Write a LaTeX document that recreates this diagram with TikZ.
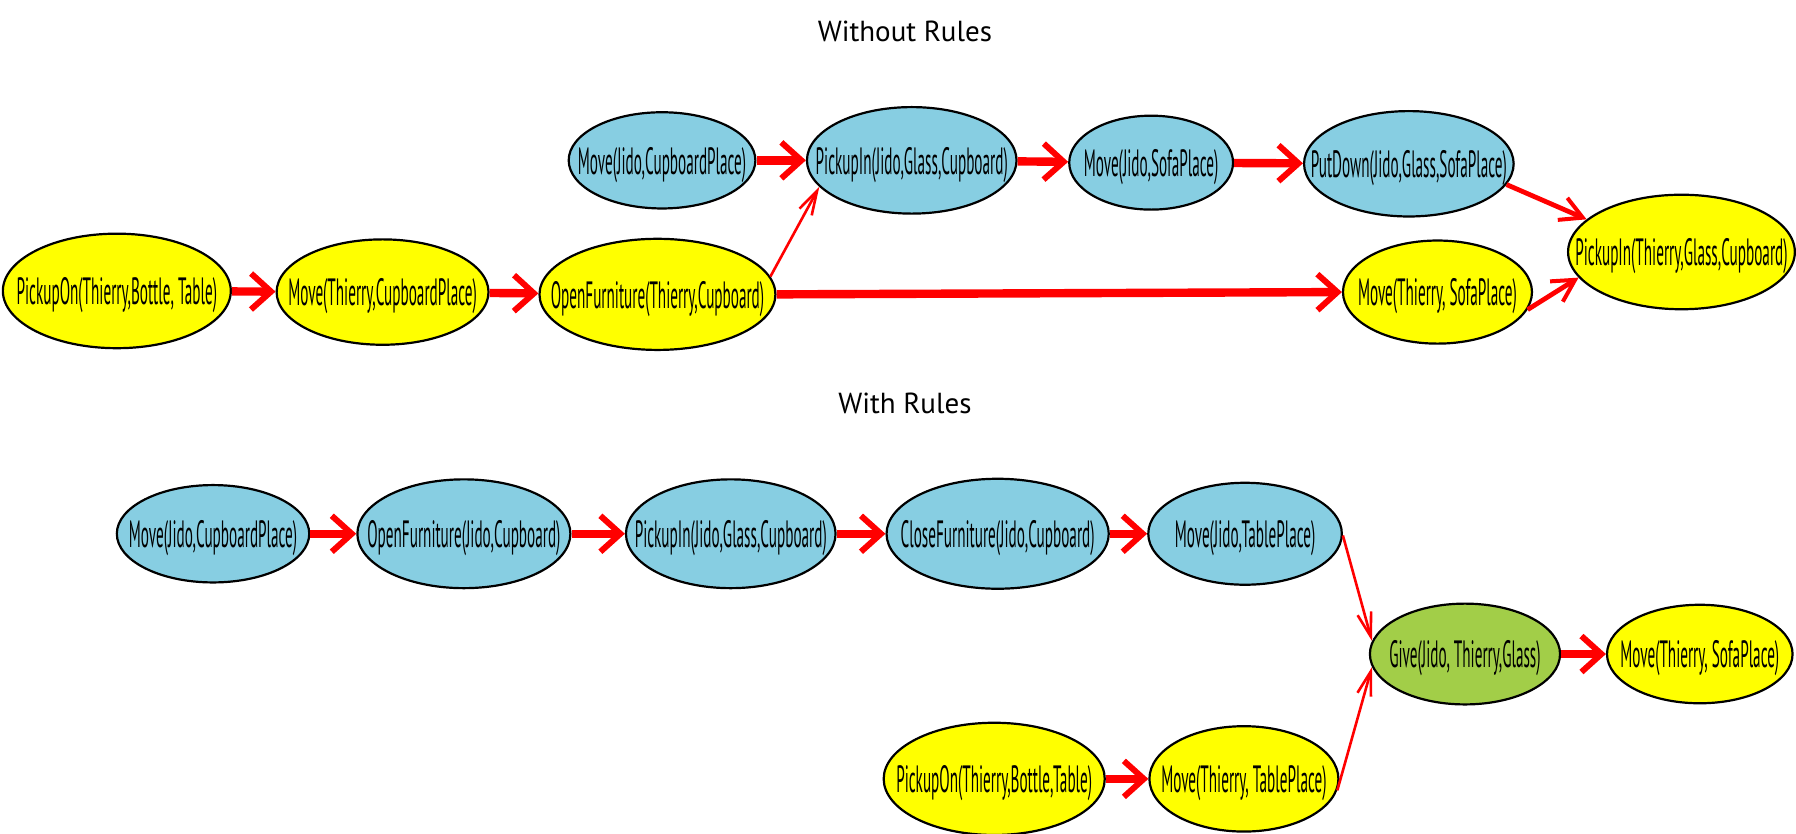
\documentclass[tikz,border=0pt]{standalone}
\usepackage{fontspec}
\setmainfont{PT Sans}
\newfontfamily\condfont[FakeStretch=0.40]{PT Sans}
\usetikzlibrary{shapes.geometric,arrows.meta}
\definecolor{ylw}{RGB}{255,255,0}
\definecolor{sky}{RGB}{135,206,226}
\definecolor{grn}{RGB}{162,206,72}
\definecolor{arr}{RGB}{255,0,0}
\newcommand{\et}[1]{\makebox[0pt]{\raisebox{-0.36em}[0pt][0pt]{#1}}}
\tikzset{
  ev/.style n args={3}{ellipse, draw=black, line width=1.1pt, fill=#1, inner sep=0pt,
    text height=0pt, text depth=0pt,
    minimum width={#2*0.5727pt}, minimum height={#3*0.5727pt},
    font=\condfont\fontsize{19}{19}\selectfont},
  thick arrow/.style={draw=arr, line width=4.2pt,
    -{Straight Barb[length=10pt,width=18pt,line width=3pt]}},
  mid arrow/.style={draw=arr, line width=2.4pt,
    -{Straight Barb[length=11pt,width=12pt,line width=2pt]}},
  thin arrow/.style={draw=arr, line width=1.3pt,
    -{Straight Barb[length=12pt,width=7pt,line width=1.3pt]}},
  title/.style={font=\fontsize{14.5}{15}\selectfont}
}
\begin{document}
\begin{tikzpicture}[x=0.5727pt,y=-0.5727pt]
\useasboundingbox (0,0) rectangle (1568,728);
\node[title] (t1) at (790,27) {Without Rules};
\node[title] (t2) at (790,352) {With Rules};
% top
\node[ev={ylw}{199}{100}] (a1) at (102,254) {\et{PickupOn(Thierry,Bottle, Table)}};
\node[ev={ylw}{185}{92}] (a2) at (334,255) {\et{Move(Thierry,CupboardPlace)}};
\node[ev={ylw}{206}{97}] (a3) at (574,257) {\et{OpenFurniture(Thierry,Cupboard)}};
\node[ev={sky}{163}{84}] (a4) at (578,140) {\et{Move(Jido,CupboardPlace)}};
\node[ev={sky}{183}{93}] (a5) at (796,140) {\et{PickupIn(Jido,Glass,Cupboard)}};
\node[ev={sky}{143}{82}] (a6) at (1005,142) {\et{Move(Jido,SofaPlace)}};
\node[ev={sky}{183}{92}] (a7) at (1230,143) {\et{PutDown(Jido,Glass,SofaPlace)}};
\node[ev={ylw}{165}{90}] (a8) at (1255,255) {\et{Move(Thierry, SofaPlace)}};
\node[ev={ylw}{198}{100}] (a9) at (1468,220) {\et{PickupIn(Thierry,Glass,Cupboard)}};
\draw[thick arrow] (a1) -- (a2);
\draw[thick arrow] (a2) -- (a3);
\draw[thick arrow] (a4) -- (a5);
\draw[thick arrow] (a5) -- (a6);
\draw[thick arrow] (a6) -- (a7);
\draw[thick arrow] (a3.east) -- (a8.west);
\draw[thin arrow] (a3.9) -- (a5.196);
\draw[mid arrow] (a7.-12) -- (a9.161);
\draw[mid arrow] (a8.-11) -- (a9.194);
% bottom
\node[ev={sky}{168}{85}] (b1) at (186,466) {\et{Move(Jido,CupboardPlace)}};
\node[ev={sky}{186}{95}] (b2) at (405,466) {\et{OpenFurniture(Jido,Cupboard)}};
\node[ev={sky}{183}{95}] (b3) at (638,466) {\et{PickupIn(Jido,Glass,Cupboard)}};
\node[ev={sky}{194}{96}] (b4) at (871,466) {\et{CloseFurniture(Jido,Cupboard)}};
\node[ev={sky}{169}{89}] (b5) at (1087,466) {\et{Move(Jido,TablePlace)}};
\node[ev={grn}{166}{88}] (b6) at (1279,571) {\et{Give(Jido, Thierry,Glass)}};
\node[ev={ylw}{162}{86}] (b7) at (1484,571) {\et{Move(Thierry, SofaPlace)}};
\node[ev={ylw}{193}{98}] (b8) at (868,680) {\et{PickupOn(Thierry,Bottle,Table)}};
\node[ev={ylw}{165}{92}] (b9) at (1086,680) {\et{Move(Thierry, TablePlace)}};
\draw[thick arrow] (b1) -- (b2);
\draw[thick arrow] (b2) -- (b3);
\draw[thick arrow] (b3) -- (b4);
\draw[thick arrow] (b4) -- (b5);
\draw[thick arrow] (b6) -- (b7);
\draw[thick arrow] (b8) -- (b9);
\draw[thin arrow] (b5.-1) -- (b6.172);
\draw[thin arrow] (b9.-7) -- (b6.188);
\end{tikzpicture}
\end{document}
